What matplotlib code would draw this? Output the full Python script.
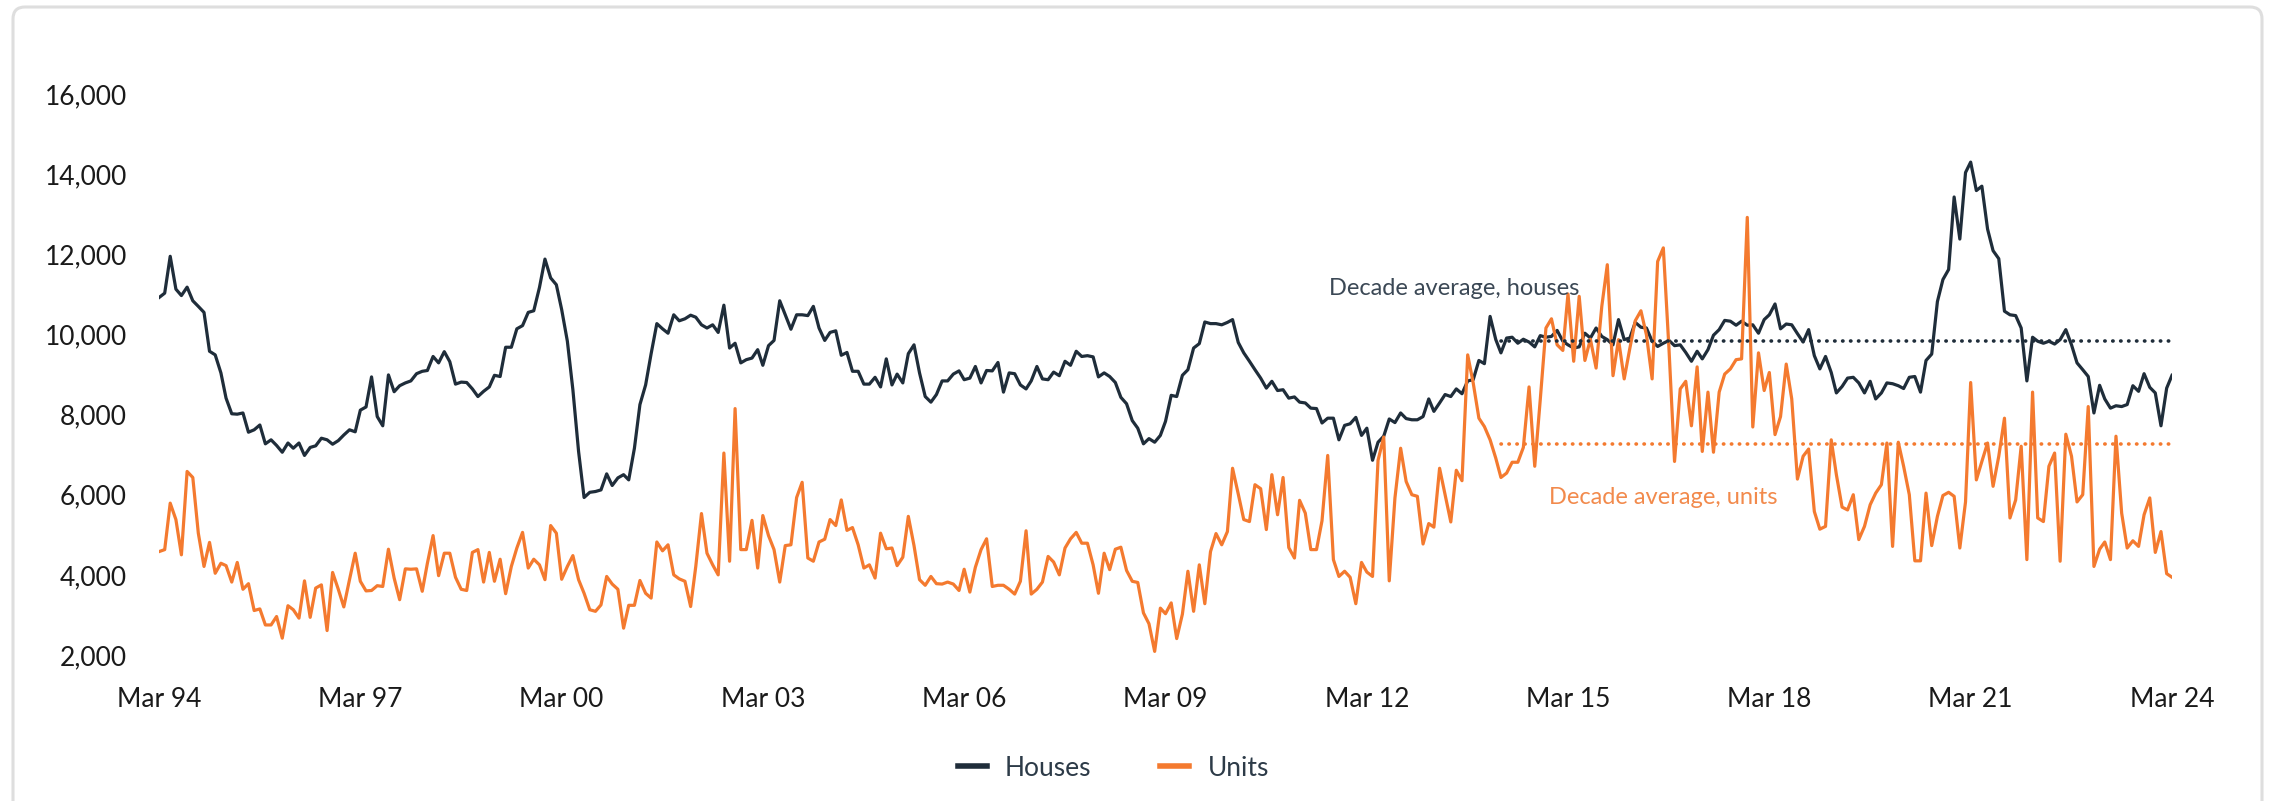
import matplotlib
matplotlib.use("Agg")
import matplotlib.pyplot as plt
import matplotlib.dates as mdates
from matplotlib.patches import FancyBboxPatch
from matplotlib.lines import Line2D
import pandas as pd

# monthly values, Mar 1994 - Mar 2024
houses = [
    10920, 11030, 11950, 11130, 10970, 11180, 10840, 10700, 10550, 9580,
    9490, 9040, 8410, 8020, 8010, 8040, 7560, 7620, 7740, 7270,
    7370, 7230, 7060, 7290, 7160, 7290, 6980, 7180, 7220, 7410,
    7370, 7260, 7350, 7490, 7620, 7570, 8110, 8190, 8940, 7950,
    7720, 8990, 8570, 8720, 8790, 8840, 9020, 9080, 9100, 9450,
    9290, 9570, 9320, 8760, 8810, 8800, 8640, 8450, 8580, 8690,
    8980, 8950, 9680, 9680, 10140, 10220, 10550, 10590, 11170, 11880,
    11410, 11240, 10620, 9830, 8620, 7080, 5930, 6060, 6080, 6120,
    6520, 6230, 6420, 6500, 6370, 7160, 8250, 8740, 9520, 10270,
    10140, 10030, 10490, 10340, 10390, 10480, 10430, 10240, 10160, 10240,
    10050, 10730, 9660, 9780, 9290, 9370, 9410, 9620, 9230, 9720,
    9850, 10840, 10490, 10130, 10490, 10490, 10470, 10700, 10160, 9850,
    10050, 10090, 9480, 9550, 9080, 9080, 8760, 8760, 8930, 8690,
    9390, 8740, 9010, 8790, 9520, 9740, 9040, 8450, 8310, 8500,
    8840, 8840, 9010, 9090, 8870, 8910, 9200, 8790, 9100, 9090,
    9300, 8560, 9040, 9020, 8740, 8640, 8840, 9200, 8890, 8870,
    9060, 8970, 9330, 9230, 9580, 9450, 9470, 9440, 8940, 9040,
    8950, 8800, 8430, 8270, 7850, 7660, 7270, 7400, 7310, 7480,
    7830, 8480, 8450, 8980, 9120, 9660, 9770, 10310, 10270, 10270,
    10240, 10300, 10370, 9800, 9540, 9330, 9120, 8910, 8660, 8830,
    8600, 8620, 8410, 8440, 8310, 8290, 8160, 8150, 7790, 7910,
    7910, 7370, 7730, 7770, 7930, 7480, 7660, 6860, 7310, 7460,
    7890, 7800, 8040, 7900, 7870, 7870, 7950, 8390, 8080, 8290,
    8500, 8450, 8640, 8520, 8840, 8870, 9350, 9270, 10450, 9870,
    9540, 9910, 9930, 9780, 9880, 9810, 9690, 9970, 9930, 9950,
    10100, 9830, 9740, 9660, 9690, 10030, 9910, 10160, 9950, 9870,
    9740, 10370, 9870, 9910, 10300, 10180, 10160, 9830, 9700, 9780,
    9850, 9720, 9740, 9550, 9330, 9580, 9390, 9620, 9980, 10120,
    10350, 10330, 10230, 10330, 10230, 10240, 10030, 10370, 10490, 10760,
    10140, 10260, 10240, 10020, 9810, 10120, 9470, 9140, 9450, 9050,
    8540, 8700, 8910, 8930, 8790, 8540, 8830, 8390, 8540, 8790,
    8770, 8720, 8650, 8930, 8950, 8560, 9350, 9510, 10820, 11370,
    11620, 13430, 12380, 14040, 14300, 13590, 13700, 12630, 12090, 11890,
    10580, 10490, 10470, 10160, 8840, 9930, 9830, 9780, 9830, 9760,
    9870, 10120, 9740, 9290, 9120, 8950, 8040, 8730, 8390, 8160,
    8220, 8200, 8250, 8720, 8580, 9020, 8680, 8540, 7720, 8660, 8980,
]

units = [
    4580, 4630, 5790, 5380, 4500, 6580, 6430, 5040, 4210, 4810,
    4040, 4290, 4230, 3820, 4310, 3640, 3780, 3110, 3150, 2750,
    2750, 2960, 2420, 3230, 3130, 2920, 3850, 2940, 3670, 3750,
    2610, 4060, 3640, 3200, 3880, 4540, 3840, 3600, 3610, 3730,
    3710, 4640, 3920, 3380, 4150, 4140, 4150, 3590, 4290, 4980,
    3980, 4540, 4540, 3940, 3640, 3610, 4560, 4630, 3820, 4560,
    3840, 4390, 3530, 4210, 4670, 5060, 4170, 4390, 4250, 3880,
    5230, 5040, 3890, 4210, 4480, 3880, 3540, 3130, 3090, 3250,
    3960, 3770, 3640, 2670, 3240, 3240, 3860, 3540, 3420, 4820,
    4600, 4750, 4000, 3900, 3840, 3210, 4210, 5530, 4540, 4250,
    4000, 7040, 4340, 8150, 4630, 4630, 5360, 4170, 5480, 4980,
    4630, 3820, 4730, 4750, 5930, 6310, 4420, 4340, 4820, 4890,
    5380, 5230, 5870, 5110, 5180, 4750, 4170, 4250, 3920, 5040,
    4650, 4670, 4230, 4440, 5460, 4730, 3880, 3740, 3960, 3780,
    3770, 3820, 3770, 3610, 4140, 3570, 4190, 4630, 4900, 3710,
    3740, 3740, 3640, 3520, 3840, 5100, 3520, 3640, 3820, 4460,
    4320, 4000, 4670, 4900, 5060, 4790, 4790, 4250, 3540, 4540,
    4130, 4640, 4690, 4110, 3840, 3810, 3050, 2780, 2090, 3170,
    3030, 3300, 2410, 3020, 4090, 3090, 4250, 3280, 4580, 5030,
    4750, 5080, 6660, 6020, 5380, 5330, 6250, 6150, 5130, 6500,
    5500, 6430, 4680, 4420, 5860, 5540, 4630, 4630, 5350, 6980,
    4380, 3960, 4090, 3940, 3280, 4310, 4070, 3960, 6860, 7440,
    3850, 5920, 7160, 6330, 6000, 5960, 4770, 5280, 5190, 6660,
    6000, 5320, 6610, 6350, 9490, 8790, 7910, 7700, 7370, 6910,
    6430, 6540, 6810, 6810, 7180, 8690, 6710, 8370, 10160, 10390,
    9740, 9600, 11010, 9330, 10950, 9350, 9880, 9160, 10700, 11740,
    8970, 9870, 8890, 9660, 10340, 10590, 9990, 8890, 11820, 12160,
    9620, 6830, 8640, 8830, 7720, 9190, 7080, 8560, 7060, 8560,
    9010, 9140, 9370, 9390, 12920, 7690, 9540, 8600, 9050, 7500,
    7950, 9260, 8390, 6390, 6960, 7140, 5580, 5140, 5210, 7370,
    6500, 5690, 5620, 6000, 4880, 5210, 5750, 6040, 6250, 7290,
    4710, 7310, 6710, 6000, 4350, 4350, 6040, 4730, 5460, 5980,
    6060, 5960, 4670, 5820, 8800, 6370, 6830, 7290, 6210, 6960,
    7910, 5420, 5870, 7210, 4380, 8560, 5420, 5330, 6710, 7040,
    4340, 7510, 6960, 5820, 6000, 8200, 4210, 4640, 4820, 4380,
    7460, 5540, 4670, 4850, 4710, 5500, 5920, 4560, 5080, 4030, 3940,
]

dates = pd.date_range("1994-03-01", "2024-03-01", freq="MS")

# decade averages (Mar 14 - Mar 24)
houses_avg = 9830
units_avg = 7270
avg_start = pd.Timestamp("2014-03-01")
avg_end = pd.Timestamp("2024-03-01")

navy = "#1f2d3a"
orange = "#f47a2f"

plt.rcParams["font.family"] = ["Lato", "DejaVu Sans"]

fig = plt.figure(figsize=(22.72, 8.01), dpi=100)
ax = fig.add_axes([159 / 2272, 146 / 801, (2172 - 159) / 2272, (655 - 94) / 801])

# light grey card border
card = FancyBboxPatch((13, -60), 2249, 854, boxstyle="round,pad=0,rounding_size=12",
                      transform=None, facecolor="none", edgecolor="#dedede", linewidth=2.2,
                      clip_on=False)
fig.patches.append(card)

ax.plot(dates, houses, color=navy, lw=2.3, label="Houses")
ax.plot(dates, units, color=orange, lw=2.3, label="Units")

ax.plot([avg_start, avg_end], [houses_avg, houses_avg], color=navy,
        lw=2.6, linestyle=(0, (0.1, 2.1)), dash_capstyle="round")
ax.plot([avg_start, avg_end], [units_avg, units_avg], color=orange,
        lw=2.6, linestyle=(0, (0.1, 2.1)), dash_capstyle="round")

ax.text(pd.Timestamp("2011-08-10"), 11140, "Decade average, houses", color="#3b4855",
        fontsize=17, ha="left", va="center")
ax.text(pd.Timestamp("2014-11-15"), 5920, "Decade average, units", color="#f28a4c",
        fontsize=17, ha="left", va="center")

ax.set_xlim(dates[0], dates[-1])
ax.set_ylim(2000, 16000)
ax.set_yticks(range(2000, 16001, 2000))
ax.yaxis.set_major_formatter(matplotlib.ticker.FuncFormatter(lambda v, p: f"{v:,.0f}"))
ax.set_xticks(pd.date_range("1994-03-01", "2024-03-01", freq="36MS"))
ax.xaxis.set_major_formatter(mdates.DateFormatter("%b %y"))
ax.tick_params(length=0, pad=23, labelsize=19, labelcolor="#1a1a1a")
for s in ax.spines.values():
    s.set_visible(False)

handles = [Line2D([], [], color=navy, lw=4), Line2D([], [], color=orange, lw=4)]
leg = fig.legend(handles, ["Houses", "Units"], loc="center", bbox_to_anchor=(0.49, 0.041),
                 ncol=2, frameon=False, fontsize=19, handlelength=1.1, handletextpad=0.7,
                 columnspacing=2.6)
for t in leg.get_texts():
    t.set_color("#2d3b48")

fig.savefig("out.png", dpi=100)
